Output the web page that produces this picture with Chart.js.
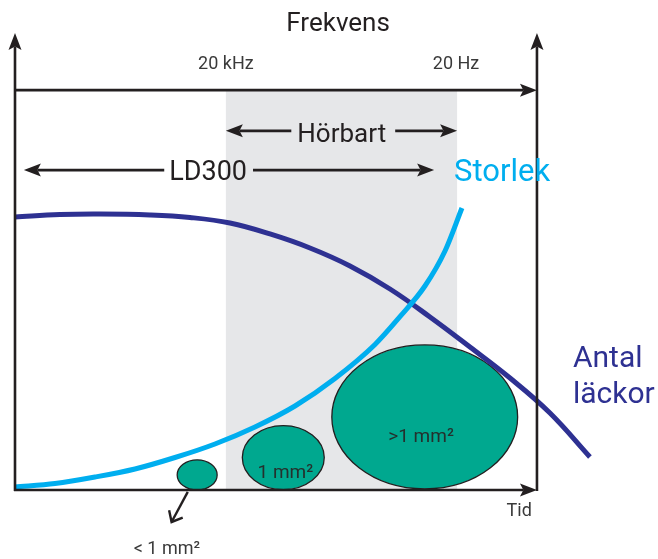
<!DOCTYPE html>
<html><head><meta charset="utf-8">
<script src="https://cdn.jsdelivr.net/npm/chart.js@4/dist/chart.umd.min.js"></script>
<style>html,body{margin:0;padding:0;background:#fff}#wrap{width:658px;height:559px;position:relative}</style>
</head><body><div id="wrap"><canvas id="c" width="658" height="559"></canvas></div>
<script>
// ---- data (chart units: x = tid 0..100 inside the frame, y = 0..100) ----
const antalX = [0, 8.62, 16.28, 25.86, 33.52, 41.19, 48.85, 56.51, 64.18, 71.84, 79.50, 87.16, 94.83, 102.49, 110.15];
const antalY = [59.74, 60.28, 60.39, 60.18, 59.63, 58.42, 56.02, 52.95, 49.02, 43.98, 37.86, 31.29, 24.51, 16.85, 7.22];
const storlekX = [0, 7.66, 15.33, 22.99, 30.65, 38.31, 45.98, 53.64, 61.30, 68.97, 73.75, 78.54, 82.38, 85.63];
const storlekY = [0.66, 1.42, 2.84, 4.60, 7.11, 10.07, 13.79, 18.38, 24.40, 31.84, 37.92, 44.64, 52.30, 61.71];
const leakLabels = ['< 1 mm²', '1 mm²', '>1 mm²'];
const leakX = [34.9, 51.4, 78.5];
const leakY = [3.3, 7.1, 16.0];
const leakRX = [3.83, 7.85, 17.8];
const leakRY = [3.3, 7.0, 15.75];
const freqTicks = ['20 kHz', '20 Hz'];
const freqTickX = [40.4, 84.5];
const audibleRange = [40.4, 84.7];
const ld300Range = [1.7, 80.3];
const freqAxisY = 87.5;
const frameMaxX = 100;

const FONT = 'Roboto, "Noto Sans", sans-serif';
const INK = '#231f20';

function arrowHead(ctx, x1, y1, x2, y2, len, hw, color) {
  const a = Math.atan2(y2 - y1, x2 - x1);
  ctx.save();
  ctx.fillStyle = color;
  ctx.beginPath();
  ctx.moveTo(x2, y2);
  ctx.lineTo(x2 - len * Math.cos(a) + hw * Math.sin(a), y2 - len * Math.sin(a) - hw * Math.cos(a));
  ctx.lineTo(x2 - len * Math.cos(a) * 0.8, y2 - len * Math.sin(a) * 0.8);
  ctx.lineTo(x2 - len * Math.cos(a) - hw * Math.sin(a), y2 - len * Math.sin(a) + hw * Math.cos(a));
  ctx.closePath();
  ctx.fill();
  ctx.restore();
}
function arrow(ctx, x1, y1, x2, y2, w, color, len = 17, hw = 6.5) {
  const a = Math.atan2(y2 - y1, x2 - x1);
  ctx.save();
  ctx.strokeStyle = color; ctx.lineWidth = w;
  ctx.beginPath();
  ctx.moveTo(x1, y1);
  ctx.lineTo(x2 - len * 0.8 * Math.cos(a), y2 - len * 0.8 * Math.sin(a));
  ctx.stroke();
  ctx.restore();
  arrowHead(ctx, x1, y1, x2, y2, len, hw, color);
}
function text(ctx, s, x, y, size, color, align = 'center', weight = 'normal') {
  ctx.save();
  ctx.font = weight + ' ' + size + 'px ' + FONT;
  ctx.fillStyle = color; ctx.textAlign = align; ctx.textBaseline = 'alphabetic';
  ctx.fillText(s, x, y);
  const w = ctx.measureText(s).width;
  ctx.restore();
  return w;
}

const diagram = {
  id: 'diagram',
  beforeDatasetsDraw(chart) {
    const ctx = chart.ctx, X = chart.scales.x, Y = chart.scales.y;
    const px = v => X.getPixelForValue(v), py = v => Y.getPixelForValue(v);
    ctx.save();
    ctx.fillStyle = '#e6e7e9';
    ctx.fillRect(px(audibleRange[0]), py(freqAxisY), px(audibleRange[1]) - px(audibleRange[0]), py(0) - py(freqAxisY));
    ctx.restore();
    for (let i = 0; i < leakX.length; i++) {
      const cx = px(leakX[i]), cy = py(leakY[i]);
      const rx = px(leakX[i] + leakRX[i]) - cx, ry = cy - py(leakY[i] + leakRY[i]);
      ctx.save();
      ctx.beginPath();
      ctx.ellipse(cx, cy, rx, ry, 0, 0, Math.PI * 2);
      ctx.fillStyle = '#00a88f'; ctx.fill();
      ctx.lineWidth = 1.3; ctx.strokeStyle = INK; ctx.stroke();
      ctx.restore();
    }
    text(ctx, leakLabels[1], px(51.8), py(2.6), 19, '#24302d');
    text(ctx, leakLabels[2], px(77.8), py(10.5), 19, '#24302d');
  },
  afterDatasetsDraw(chart) {
    const ctx = chart.ctx, X = chart.scales.x, Y = chart.scales.y;
    const px = v => X.getPixelForValue(v), py = v => Y.getPixelForValue(v);
    const aw = 2.6;
    arrow(ctx, px(0), py(0) + 1, px(0), py(100), aw, INK);
    arrow(ctx, px(frameMaxX), py(0) + 1, px(frameMaxX), py(100), aw, INK);
    arrow(ctx, px(0) - 1, py(0), px(frameMaxX), py(0), aw, INK);
    arrow(ctx, px(0), py(freqAxisY), px(frameMaxX), py(freqAxisY), aw, INK);
    text(ctx, 'Frekvens', px(61.9), py(100.4), 26, INK);
    text(ctx, freqTicks[0], px(freqTickX[0]), py(92.1), 18, '#3a3a3a');
    text(ctx, freqTicks[1], px(freqTickX[1]), py(92.1), 18, '#3a3a3a');
    text(ctx, 'Tid', px(96.6), py(-5.7), 18, '#3a3a3a');
    const hb = 62.6, hw = text(ctx, 'Hörbart', px(hb), py(76.1), 26, INK);
    const hy = py(78.6);
    arrow(ctx, px(hb) - hw / 2 - 6, hy, px(audibleRange[0]), hy, 2.8, INK);
    arrow(ctx, px(hb) + hw / 2 + 9, hy, px(audibleRange[1]), hy, 2.8, INK);
    const lc = 37.0, lw = text(ctx, 'LD300', px(lc), py(67.8), 27, INK);
    const ly = py(70.0);
    arrow(ctx, px(lc) - lw / 2 - 5, ly, px(ld300Range[0]), ly, 2.8, INK);
    arrow(ctx, px(lc) + lw / 2 + 6, ly, px(ld300Range[1]), ly, 2.8, INK);
    text(ctx, 'Storlek', px(84.1), py(67.6), 31, '#00aeef', 'left');
    text(ctx, 'Antal', px(106.9), py(26.9), 30, '#2e3192', 'left');
    text(ctx, 'läckor', px(106.9), py(19.0), 30, '#2e3192', 'left');
    const sx1 = px(33.1), sy1 = py(-0.4), sx2 = px(30.0), sy2 = py(-7.0);
    ctx.save();
    ctx.strokeStyle = INK; ctx.lineWidth = 2.4;
    ctx.beginPath(); ctx.moveTo(sx1, sy1); ctx.lineTo(sx2, sy2); ctx.stroke();
    const a = Math.atan2(sy2 - sy1, sx2 - sx1);
    ctx.beginPath();
    ctx.moveTo(sx2 - 12 * Math.cos(a - 0.7), sy2 - 12 * Math.sin(a - 0.7));
    ctx.lineTo(sx2, sy2);
    ctx.lineTo(sx2 - 12 * Math.cos(a + 0.7), sy2 - 12 * Math.sin(a + 0.7));
    ctx.stroke();
    ctx.restore();
    text(ctx, leakLabels[0], px(29.1), py(-14.0), 18, '#3a3a3a');
  }
};

new Chart(document.getElementById('c'), {
  type: 'scatter',
  data: {
    datasets: [
      {
        label: 'Antal läckor',
        data: antalX.map((x, i) => ({ x, y: antalY[i] })),
        showLine: true, borderColor: '#2e3192', borderWidth: 5,
        pointRadius: 0, tension: 0.4, clip: false, order: 2
      },
      {
        label: 'Storlek',
        data: storlekX.map((x, i) => ({ x, y: storlekY[i] })),
        showLine: true, borderColor: '#00aeef', borderWidth: 5,
        pointRadius: 0, cubicInterpolationMode: 'monotone', clip: false, order: 1
      }
    ]
  },
  options: {
    responsive: false, animation: false, devicePixelRatio: 1,
    // x range 0..112 spans 15..599.6px so the frame edge (x=100) sits at 537px
    layout: { padding: { left: 15, right: 58.4, top: 33, bottom: 69 } },
    scales: {
      x: { type: 'linear', min: 0, max: 112, display: false },
      y: { type: 'linear', min: 0, max: 100, display: false }
    },
    plugins: { legend: { display: false }, tooltip: { enabled: false }, title: { display: false } }
  },
  plugins: [diagram]
});
</script></body></html>
